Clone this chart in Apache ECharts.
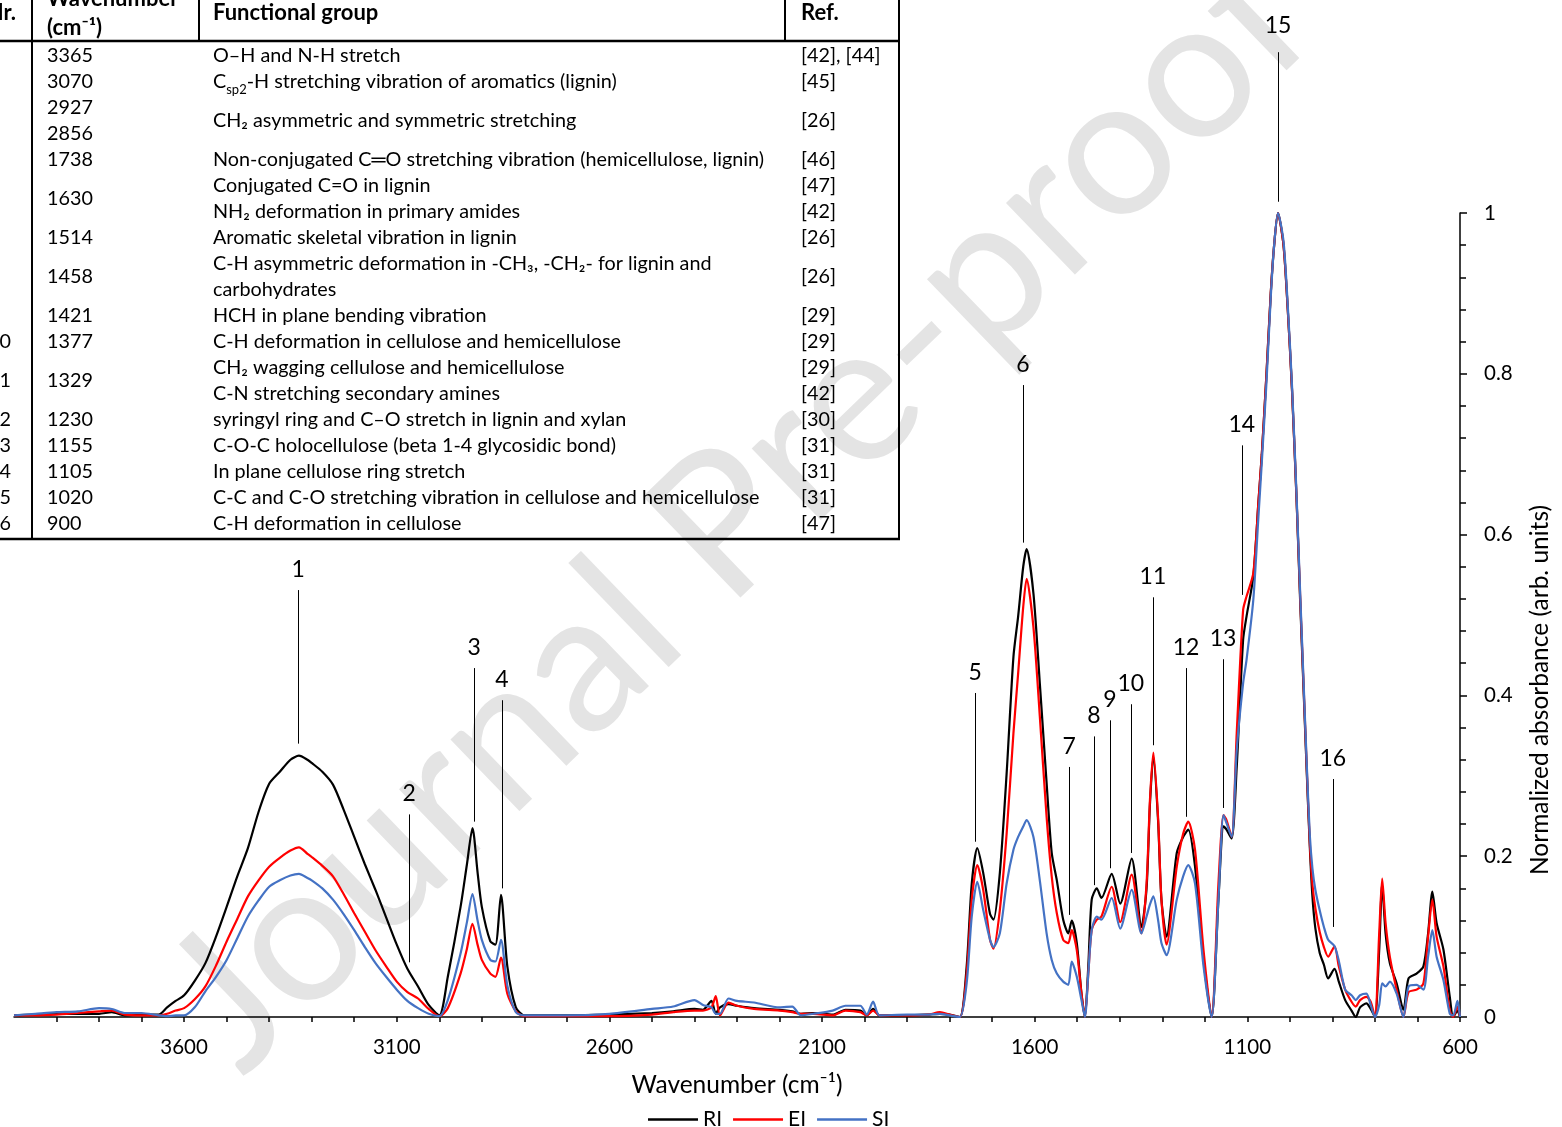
<!DOCTYPE html>
<html>
<head>
<meta charset="utf-8">
<title>FTIR spectra RI / EI / SI</title>
<script src="https://cdn.jsdelivr.net/npm/echarts@6.0.0/dist/echarts.min.js"></script>
<style>
html, body { margin: 0; padding: 0; background: #fff; }
#chart { width: 1562px; height: 1127px; }
</style>
</head>
<body>
<div id="chart"></div>
<script>
// spectrum samples (cm-1), same order in every array
var wavenumber = [
  4000, 3950, 3900, 3850, 3800, 3770, 3740, 3700, 3660, 3640,
  3620, 3600, 3575, 3550, 3525, 3500, 3475, 3450, 3425, 3400,
  3375, 3350, 3330, 3310, 3300, 3275, 3250, 3225, 3200, 3175,
  3150, 3125, 3100, 3075, 3050, 3025, 3000, 2980, 2950, 2935,
  2922, 2910, 2900, 2880, 2868, 2855, 2840, 2820, 2800, 2700,
  2600, 2500, 2450, 2400, 2380, 2360, 2350, 2340, 2320, 2300,
  2260, 2200, 2170, 2150, 2120, 2075, 2045, 2010, 1995, 1980,
  1965, 1900, 1850, 1823, 1800, 1776, 1760, 1748, 1735, 1721,
  1705, 1697, 1682, 1666, 1650, 1639, 1627, 1619, 1603, 1588,
  1572, 1560, 1548, 1533, 1521, 1513, 1501, 1490, 1482, 1474,
  1466, 1454, 1443, 1419, 1399, 1372, 1349, 1337, 1329, 1321,
  1310, 1302, 1290, 1266, 1251, 1239, 1223, 1203, 1184, 1168,
  1156, 1149, 1137, 1125, 1110, 1102, 1086, 1074, 1066, 1055,
  1045, 1037, 1028, 1015, 1005, 995, 984, 976, 968, 960,
  953, 947, 940, 930, 920, 910, 895, 885, 870, 855,
  845, 835, 820, 810, 800, 790, 783, 775, 765, 749,
  733, 721, 702, 686, 675, 665, 655, 639, 624, 616,
  606, 600
];
var RI = [
  .002, .003, .004, .004, .004, .006, .002, .003, .003, .012,
  .020, .027, .045, .067, .100, .137, .175, .210, .255, .290,
  .305, .320, .325, .320, .316, .305, .289, .258, .224, .190,
  .158, .124, .090, .060, .038, .015, .002, .050, .137, .190,
  .235, .180, .137, .094, .090, .152, .063, .012, .002, .002,
  .003, .005, .007, .010, .009, .020, .004, .012, .016, .014,
  .011, .009, .007, .004, .005, .003, .009, .008, .002, .010,
  .002, .002, .003, .004, .003, 0, .063, .166, .210, .179,
  .128, .121, .179, .303, .448, .498, .560, .582, .527, .415,
  .291, .204, .170, .121, .104, .120, .092, .029, 0, .063,
  .146, .160, .148, .178, .141, .197, .112, .160, .265, .324,
  .245, .146, .100, .204, .224, .233, .187, .071, 0, .146,
  .237, .233, .222, .311, .469, .498, .548, .640, .700, .800,
  .900, .960, 1, .960, .880, .780, .640, .520, .410, .300,
  .210, .150, .110, .080, .065, .048, .060, .044, .021, .008,
  0, .012, .017, .010, 0, .083, .165, .104, .067, .042,
  .009, .048, .054, .063, .104, .156, .117, .084, .025, 0,
  .008, 0
];
var EI = [
  .002, .002, .003, .005, .007, .008, .003, .002, .002, .004,
  .008, .011, .022, .038, .064, .094, .122, .150, .170, .187,
  .198, .207, .211, .203, .199, .188, .175, .153, .129, .106,
  .083, .063, .044, .031, .023, .010, .001, .011, .054, .085,
  .116, .090, .071, .054, .050, .074, .029, .007, .001, .001,
  .001, .003, .006, .008, .008, .012, .026, .002, .018, .014,
  .010, .008, .006, .004, .004, .002, .008, .006, .002, .008,
  .002, .002, .003, .006, .003, 0, .054, .146, .189, .158,
  .096, .085, .133, .228, .353, .427, .510, .545, .485, .374,
  .249, .175, .129, .096, .092, .108, .083, .029, 0, .054,
  .108, .121, .125, .162, .118, .177, .104, .166, .270, .329,
  .249, .146, .090, .187, .228, .243, .208, .083, 0, .166,
  .251, .245, .224, .353, .506, .523, .552, .640, .700, .800,
  .900, .960, 1, .960, .880, .780, .640, .525, .415, .305,
  .215, .165, .135, .106, .087, .075, .088, .063, .034, .019,
  .013, .021, .025, .019, 0, .104, .172, .117, .075, .034,
  0, .031, .034, .042, .100, .146, .100, .063, .008, 0,
  .013, 0
];
var SI = [
  .002, .004, .006, .007, .011, .010, .005, .005, .002, .001,
  .002, .002, .012, .032, .050, .071, .098, .125, .145, .162,
  .170, .176, .178, .173, .170, .160, .146, .128, .108, .087,
  .067, .050, .034, .020, .011, .004, .001, .021, .079, .118,
  .153, .120, .096, .071, .069, .096, .039, .006, .002, .002,
  .004, .010, .013, .021, .015, .012, .004, .004, .023, .020,
  .018, .012, .013, .002, .004, .008, .014, .014, .003, .019,
  .002, .003, .003, .004, .002, 0, .042, .125, .168, .133,
  .096, .087, .104, .166, .208, .224, .237, .245, .224, .170,
  .104, .071, .054, .044, .040, .069, .050, .021, 0, .054,
  .108, .125, .121, .148, .110, .158, .104, .125, .140, .150,
  .121, .092, .077, .146, .175, .189, .166, .063, 0, .146,
  .251, .241, .224, .332, .415, .444, .519, .622, .690, .790,
  .895, .960, 1, .965, .885, .785, .645, .530, .420, .310,
  .225, .185, .158, .133, .112, .096, .088, .070, .034, .027,
  .021, .027, .029, .015, 0, .015, .042, .038, .044, .029,
  0, .038, .040, .034, .075, .108, .075, .046, .004, .002,
  .020, 0
];

// numbered peak markers: position (cm-1), line bottom and top (absorbance)
var peakLabels = ['1', '2', '3', '4', '5', '6', '7', '8', '9', '10', '11', '12', '13', '14', '15', '16'];
var peakPos = [3332, 3071, 2918, 2853, 1740, 1628, 1519, 1461, 1423, 1374, 1322, 1244, 1157, 1113, 1028, 899];
var peakLineLow = [0.34, 0.068, 0.243, 0.16, 0.218, 0.59, 0.127, 0.164, 0.185, 0.204, 0.338, 0.249, 0.26, 0.525, 1.014, 0.112];
var peakLineHigh = [0.531, 0.252, 0.434, 0.394, 0.403, 0.786, 0.311, 0.349, 0.369, 0.389, 0.522, 0.434, 0.445, 0.711, 1.2, 0.296];

var xTicks = [3600, 3100, 2600, 2100, 1600, 1100, 600];
var seriesNames = ['RI', 'EI', 'SI'];
var seriesColors = ['#000000', '#FF0000', '#4472C4'];

// band assignment table (top left of the figure)
var tableRows = [
  { nr: ['1'], wn: ['3365'], group: ['O–H and N-H stretch'], ref: ['[42], [44]'] },
  { nr: ['2'], wn: ['3070'], group: ['C{sub|sp2}-H stretching vibration of aromatics (lignin)'], ref: ['[45]'] },
  { nr: ['3', '4'], wn: ['2927', '2856'], group: ['CH₂ asymmetric and symmetric stretching'], ref: ['[26]'] },
  { nr: ['5'], wn: ['1738'], group: ['Non-conjugated C═O stretching vibration (hemicellulose, lignin)'], ref: ['[46]'] },
  { nr: ['6'], wn: ['1630'], group: ['Conjugated C=O in lignin', 'NH₂ deformation in primary amides'], ref: ['[47]', '[42]'] },
  { nr: ['7'], wn: ['1514'], group: ['Aromatic skeletal vibration in lignin'], ref: ['[26]'] },
  { nr: ['8'], wn: ['1458'], group: ['C-H asymmetric deformation in -CH₃, -CH₂- for lignin and', 'carbohydrates'], ref: ['[26]'] },
  { nr: ['9'], wn: ['1421'], group: ['HCH in plane bending vibration'], ref: ['[29]'] },
  { nr: ['10'], wn: ['1377'], group: ['C-H deformation in cellulose and hemicellulose'], ref: ['[29]'] },
  { nr: ['11'], wn: ['1329'], group: ['CH₂ wagging cellulose and hemicellulose', 'C-N stretching secondary amines'], ref: ['[29]', '[42]'] },
  { nr: ['12'], wn: ['1230'], group: ['syringyl ring and C–O stretch in lignin and xylan'], ref: ['[30]'] },
  { nr: ['13'], wn: ['1155'], group: ['C-O-C holocellulose (beta 1-4 glycosidic bond)'], ref: ['[31]'] },
  { nr: ['14'], wn: ['1105'], group: ['In plane cellulose ring stretch'], ref: ['[31]'] },
  { nr: ['15'], wn: ['1020'], group: ['C-C and C-O stretching vibration in cellulose and hemicellulose'], ref: ['[31]'] },
  { nr: ['16'], wn: ['900'], group: ['C-H deformation in cellulose'], ref: ['[47]'] }
];

var FONT = 'Lato, "Open Sans", sans-serif';

function txt(x, y, text, size, opts) {
  opts = opts || {};
  return {
    type: 'text', x: x, y: y, z: 10, silent: true,
    rotation: opts.rotation || 0,
    style: {
      text: text,
      fill: opts.color || '#000',
      fontSize: size,
      fontFamily: FONT,
      fontWeight: opts.bold ? 'bold' : 'normal',
      align: opts.align || 'left', textAlign: opts.align || 'left',
      verticalAlign: 'middle', textVerticalAlign: 'middle',
      rich: { sub: { fontSize: 13, fontFamily: FONT, verticalAlign: 'bottom', lineHeight: 12, padding: [0, 0, -4, 0] } }
    }
  };
}
function hline(x1, y1, x2, y2, w) {
  return { type: 'line', z: 10, silent: true, shape: { x1: x1, y1: y1, x2: x2, y2: y2 }, style: { stroke: '#000', lineWidth: w || 2 } };
}

var graphics = [];
// watermark behind everything
graphics.push({
  type: 'text', x: 738, y: 512, z: -1, silent: true, rotation: 44 * Math.PI / 180,
  style: { text: 'Journal Pre-proof', fill: '#e4e4e4', fontSize: 196, fontFamily: FONT,
    align: 'center', textAlign: 'center', verticalAlign: 'middle', textVerticalAlign: 'middle' }
});

// table frame
graphics.push(hline(0, 41, 900, 41, 2.5));
graphics.push(hline(0, 539, 900, 539, 2.5));
graphics.push(hline(32, 0, 32, 539));
graphics.push(hline(199, 0, 199, 41));
graphics.push(hline(785, 0, 785, 41));
graphics.push(hline(899, 0, 899, 540));
// header
graphics.push(txt(16, 13, 'Nr.', 22, { bold: true, align: 'right' }));
graphics.push(txt(47, -1, 'Wavenumber', 22, { bold: true }));
graphics.push(txt(47, 28, '(cm⁻¹)', 22, { bold: true }));
graphics.push(txt(213, 13, 'Functional group', 22, { bold: true }));
graphics.push(txt(801, 13, 'Ref.', 22, { bold: true }));
// rows
var slot = 0;
tableRows.forEach(function (row) {
  var h = Math.max(row.nr.length, row.wn.length, row.group.length, row.ref.length);
  function put(lines, x, align) {
    lines.forEach(function (t, i) {
      var yc = 56 + (slot + (h - lines.length) / 2 + i) * 26;
      graphics.push(txt(x, yc, t, 19.8, { align: align }));
    });
  }
  put(row.nr, -12);
  put(row.wn, 47);
  put(row.group, 213);
  put(row.ref, 801);
  slot += h;
});

// y axis title
graphics.push(txt(1540, 690, 'Normalized absorbance (arb. units)', 24.5, { align: 'center', rotation: Math.PI / 2 }));

var series = seriesNames.map(function (name, k) {
  var vals = [RI, EI, SI][k];
  return {
    name: name,
    type: 'line',
    xAxisIndex: 0,
    yAxisIndex: 0,
    symbol: 'none',
    smooth: 0.25,
    lineStyle: { color: seriesColors[k], width: 2.2 },
    itemStyle: { color: seriesColors[k] },
    data: wavenumber.map(function (w, i) { return [w, vals[i]]; })
  };
});

// annotation lines live in an overlay grid that reaches above 1
series.push({
  type: 'line',
  xAxisIndex: 1,
  yAxisIndex: 1,
  data: [],
  silent: true,
  markLine: {
    silent: true,
    symbol: ['none', 'none'],
    lineStyle: { color: '#000', width: 1, type: 'solid' },
    label: { show: true, position: 'end', distance: 9, color: '#000', fontSize: 23, fontFamily: FONT, formatter: '{b}' },
    data: peakPos.map(function (p, i) {
      var start = { name: peakLabels[i], coord: [p, peakLineLow[i]] };
      if (peakLineHigh[i] > 1) start.label = { distance: 15 };
      return [start, { coord: [p, peakLineHigh[i]] }];
    })
  }
});

var chart = echarts.init(document.getElementById('chart'));
chart.setOption({
  backgroundColor: '#fff',
  animation: false,
  textStyle: { fontFamily: FONT },
  graphic: graphics,
  legend: {
    data: seriesNames,
    left: 643,
    top: 1104,
    icon: 'rect',
    itemWidth: 50,
    itemHeight: 2.5,
    itemGap: 11,
    textStyle: { fontSize: 21, color: '#000', fontFamily: FONT }
  },
  grid: [
    { left: 14, right: 102, top: 213, bottom: 110 },
    { left: 14, right: 102, top: 12, bottom: 110 }
  ],
  xAxis: [{
    type: 'value',
    gridIndex: 0,
    min: 600,
    max: 4000,
    interval: 100,
    inverse: true,
    name: 'Wavenumber (cm⁻¹)',
    nameLocation: 'middle',
    nameGap: 56,
    nameTextStyle: { fontSize: 24.5, color: '#000', fontFamily: FONT },
    axisLine: { onZero: false, lineStyle: { color: '#000', width: 1.5 } },
    axisTick: { length: 5, lineStyle: { color: '#000', width: 1.5 } },
    axisLabel: {
      margin: 20, fontSize: 20.5, color: '#000', fontFamily: FONT,
      showMaxLabel: false,
      formatter: function (v) { return xTicks.indexOf(v) >= 0 ? String(v) : ''; }
    },
    splitLine: { show: false }
  }, {
    type: 'value', gridIndex: 1, min: 600, max: 4000, inverse: true, show: false
  }],
  yAxis: [{
    type: 'value',
    gridIndex: 0,
    position: 'right',
    min: 0,
    max: 1,
    interval: 0.2,
    axisLine: { show: true, lineStyle: { color: '#000', width: 1.5 } },
    axisTick: { show: true, length: 7, lineStyle: { color: '#000', width: 1.5 } },
    minorTick: { show: true, splitNumber: 5, length: 6, lineStyle: { color: '#000', width: 1.5 } },
    axisLabel: { margin: 24, fontSize: 20.5, color: '#000', fontFamily: FONT },
    splitLine: { show: false }
  }, {
    type: 'value', gridIndex: 1, min: 0, max: 1.25, show: false
  }],
  series: series
});
</script>
</body>
</html>
